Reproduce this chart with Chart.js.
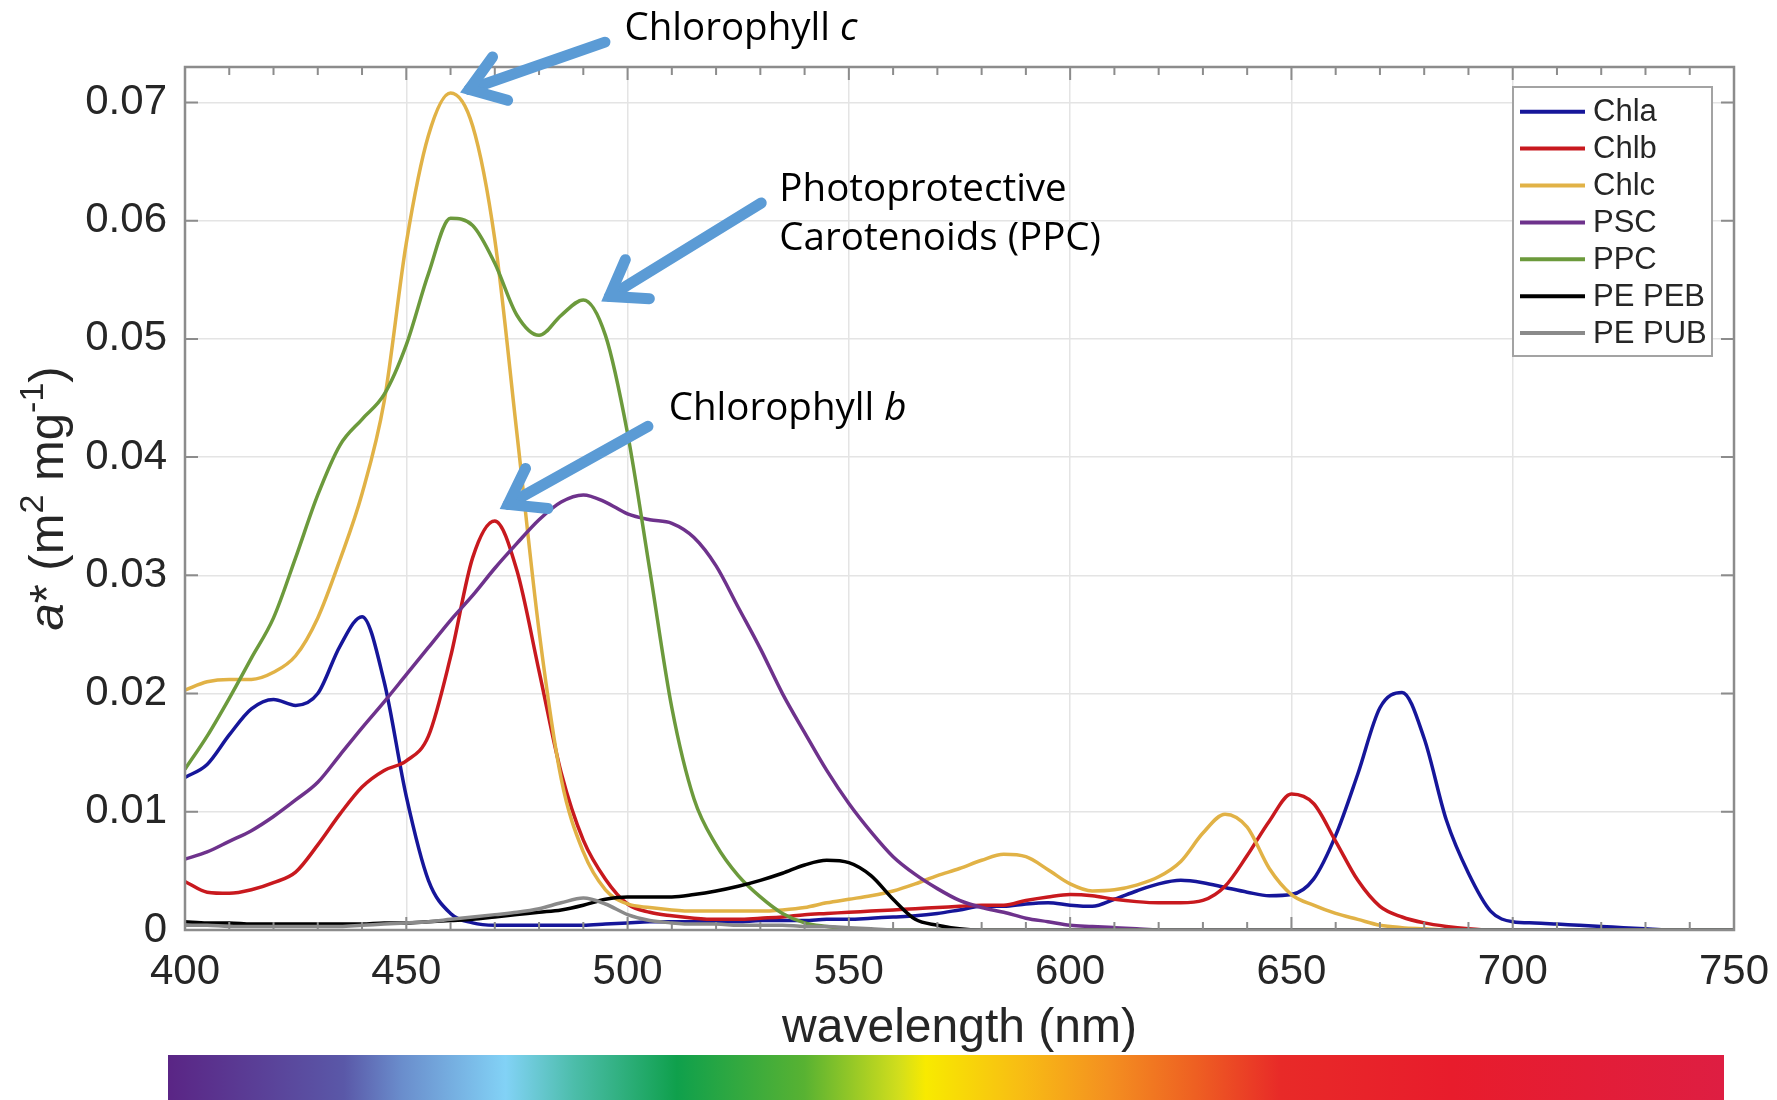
<!DOCTYPE html>
<html>
<head>
<meta charset="utf-8">
<title>Pigment absorption spectra</title>
<script src="https://cdn.jsdelivr.net/npm/chart.js@4.4.1/dist/chart.umd.min.js"></script>
<style>
  html, body { margin: 0; padding: 0; background: #fff; }
  #chart { display: block; }
</style>
</head>
<body>
<canvas id="chart" width="1777" height="1100"></canvas>
<script>
// wavelength grid (nm)
const wavelengths = [
  400, 405, 410, 415, 420, 425, 430, 435, 440, 445,
  450, 455, 460, 465, 470, 475, 480, 485, 490, 495,
  500, 505, 510, 515, 520, 525, 530, 535, 540, 545,
  550, 555, 560, 565, 570, 575, 580, 585, 590, 595,
  600, 605, 610, 615, 620, 625, 630, 635, 640, 645,
  650, 655, 660, 665, 670, 675, 680, 685, 690, 695,
  700, 705, 710, 715, 720, 725, 730, 735, 740, 745,
  750
];

// specific absorption a* (m2 mg-1) for each pigment
const chla = [
  0.0129, 0.0140, 0.0165, 0.0187, 0.0195, 0.0190, 0.0200, 0.0240, 0.0265, 0.0210,
  0.0113, 0.0042, 0.0014, 0.0006, 0.0004, 0.0004, 0.0004, 0.0004, 0.0004, 0.0005,
  0.0006, 0.0007, 0.0007, 0.0007, 0.0007, 0.0007, 0.0008, 0.0008, 0.0008, 0.0009,
  0.0009, 0.0010, 0.0011, 0.0012, 0.0014, 0.0017, 0.0020, 0.0020, 0.0022, 0.0023,
  0.0021, 0.0020, 0.0026, 0.0033, 0.0039, 0.0042, 0.0040, 0.0036, 0.0032, 0.0029,
  0.0030, 0.0043, 0.0080, 0.0132, 0.0188, 0.0201, 0.0162, 0.0093, 0.0048, 0.0016,
  0.0007, 0.0006, 0.0005, 0.0004, 0.0003, 0.0002, 0.0001, 0, 0, 0,
  0
];
const chlb = [
  0.0041, 0.0032, 0.0031, 0.0034, 0.0040, 0.0049, 0.0072, 0.0098, 0.0121, 0.0135,
  0.0143, 0.0164, 0.0231, 0.0315, 0.0346, 0.0304, 0.0219, 0.0133, 0.0076, 0.0043,
  0.0022, 0.0015, 0.0012, 0.0010, 0.0009, 0.0009, 0.0010, 0.0011, 0.0013, 0.0014,
  0.0015, 0.0016, 0.0017, 0.0018, 0.0019, 0.0020, 0.0021, 0.0021, 0.0025, 0.0028,
  0.0030, 0.0029, 0.0026, 0.0024, 0.0023, 0.0023, 0.0025, 0.0037, 0.0063, 0.0092,
  0.0115, 0.0107, 0.0075, 0.0042, 0.0020, 0.0011, 0.0006, 0.0003, 0.0001, 0,
  0, 0, 0, 0, 0, 0, 0, 0, 0, 0,
  0
];
const chlc = [
  0.0203, 0.0210, 0.0212, 0.0212, 0.0218, 0.0232, 0.0264, 0.0313, 0.0369, 0.0447,
  0.0581, 0.0672, 0.0708, 0.0680, 0.0584, 0.0420, 0.0253, 0.0128, 0.0066, 0.0034,
  0.0022, 0.0019, 0.0017, 0.0016, 0.0016, 0.0016, 0.0016, 0.0017, 0.0019, 0.0023,
  0.0026, 0.0029, 0.0033, 0.0039, 0.0046, 0.0052, 0.0059, 0.0064, 0.0062, 0.0051,
  0.0039, 0.0033, 0.0034, 0.0038, 0.0045, 0.0058, 0.0082, 0.0098, 0.0087, 0.0052,
  0.0030, 0.0021, 0.0014, 0.0009, 0.0004, 0.0002, 0.0001, 0, 0, 0,
  0, 0, 0, 0, 0, 0, 0, 0, 0, 0,
  0
];
const psc = [
  0.0060, 0.0066, 0.0075, 0.0084, 0.0096, 0.0110, 0.0125, 0.0148, 0.0171, 0.0193,
  0.0216, 0.0239, 0.0262, 0.0283, 0.0306, 0.0327, 0.0347, 0.0362, 0.0368, 0.0362,
  0.0352, 0.0347, 0.0344, 0.0332, 0.0308, 0.0273, 0.0238, 0.0200, 0.0167, 0.0135,
  0.0107, 0.0083, 0.0062, 0.0047, 0.0035, 0.0025, 0.0019, 0.0015, 0.0010, 0.0007,
  0.0004, 0.0003, 0.0002, 0.0001, 0, 0, 0, 0, 0, 0,
  0, 0, 0, 0, 0, 0, 0, 0, 0, 0,
  0, 0, 0, 0, 0, 0, 0, 0, 0, 0,
  0
];
const ppc = [
  0.0136, 0.0164, 0.0196, 0.0230, 0.0264, 0.0315, 0.0368, 0.0410, 0.0432, 0.0453,
  0.0495, 0.0555, 0.0602, 0.0596, 0.0564, 0.0520, 0.0503, 0.0520, 0.0533, 0.0503,
  0.0420, 0.0305, 0.0188, 0.0111, 0.0072, 0.0046, 0.0028, 0.0014, 0.0006, 0.0003,
  0.0001, 0, 0, 0, 0, 0, 0, 0, 0, 0,
  0, 0, 0, 0, 0, 0, 0, 0, 0, 0,
  0, 0, 0, 0, 0, 0, 0, 0, 0, 0,
  0, 0, 0, 0, 0, 0, 0, 0, 0, 0,
  0
];
const pePeb = [
  0.0007, 0.0006, 0.0006, 0.0005, 0.0005, 0.0005, 0.0005, 0.0005, 0.0005, 0.0006,
  0.0006, 0.0007, 0.0008, 0.0009, 0.0011, 0.0013, 0.0015, 0.0017, 0.0021, 0.0026,
  0.0028, 0.0028, 0.0028, 0.0030, 0.0033, 0.0037, 0.0042, 0.0048, 0.0055, 0.0059,
  0.0057, 0.0046, 0.0026, 0.0009, 0.0004, 0.0001, 0, 0, 0, 0,
  0, 0, 0, 0, 0, 0, 0, 0, 0, 0,
  0, 0, 0, 0, 0, 0, 0, 0, 0, 0,
  0, 0, 0, 0, 0, 0, 0, 0, 0, 0,
  0
];
const pePub = [
  0.0004, 0.0004, 0.0003, 0.0003, 0.0003, 0.0003, 0.0003, 0.0003, 0.0004, 0.0005,
  0.0006, 0.0007, 0.0009, 0.0011, 0.0013, 0.0015, 0.0018, 0.0023, 0.0027, 0.0022,
  0.0013, 0.0008, 0.0006, 0.0005, 0.0005, 0.0004, 0.0004, 0.0004, 0.0003, 0.0003,
  0.0002, 0.0001, 0, 0, 0, 0, 0, 0, 0, 0,
  0, 0, 0, 0, 0, 0, 0, 0, 0, 0,
  0, 0, 0, 0, 0, 0, 0, 0, 0, 0,
  0, 0, 0, 0, 0, 0, 0, 0, 0, 0,
  0
];

const seriesNames = ['Chla', 'Chlb', 'Chlc', 'PSC', 'PPC', 'PE PEB', 'PE PUB'];
const seriesValues = [chla, chlb, chlc, psc, ppc, pePeb, pePub];
const seriesColors = ['#16169a', '#c8191e', '#e1b246', '#6e328c', '#6c9a3c', '#000000', '#8a8a8a'];

const xTicks = [400, 450, 500, 550, 600, 650, 700, 750];
const yTicks = [0, 0.01, 0.02, 0.03, 0.04, 0.05, 0.06, 0.07];

// callouts, placed in data units (nm, a*)
const arrows = [
  { tail: [494.9, 0.0751], tip: [464.2, 0.0711] },
  { tail: [530.2, 0.0615], tip: [495.9, 0.0536] },
  { tail: [504.6, 0.0426], tip: [473.0, 0.0360] }
];
const callouts = [
  { text: 'Chlorophyll ', italic: 'c', at: [499.3, 0.0753] },
  { text: 'Photoprotective', italic: '', at: [534.3, 0.0617] },
  { text: 'Carotenoids (PPC)', italic: '', at: [534.3, 0.0575] },
  { text: 'Chlorophyll ', italic: 'b', at: [509.3, 0.0431] }
];

const spectrumStops = [
  [0, '#5a2585'], [0.113, '#5a58a8'], [0.15, '#6a8dcc'], [0.217, '#82d2f6'],
  [0.261, '#4cbdaa'], [0.327, '#0fa04c'], [0.409, '#58b232'], [0.47, '#d2de1c'],
  [0.487, '#f8ea00'], [0.549, '#f8bc14'], [0.604, '#f49020'], [0.66, '#ee6022'],
  [0.715, '#e82a28'], [0.825, '#e81c2c'], [1, '#de1e42']
];

const TEXT = '#262626';
const AXIS = '#8c8c8c';
const SANS = '"Liberation Sans", Arial, sans-serif';

const datasets = seriesNames.map((name, i) => ({
  label: name,
  data: wavelengths.map((w, j) => ({ x: w, y: seriesValues[i][j] })),
  borderColor: seriesColors[i],
  backgroundColor: seriesColors[i],
  borderWidth: 3.5,
  pointRadius: 0,
  fill: false,
  cubicInterpolationMode: 'monotone',
  order: seriesNames.length - i
}));

// axes box with inward ticks on all four sides
const framePlugin = {
  id: 'frame',
  afterDatasetsDraw(chart) {
    const { ctx, chartArea: a, scales: { x, y } } = chart;
    ctx.save();
    ctx.strokeStyle = AXIS;
    ctx.lineWidth = 2;
    ctx.beginPath();
    for (let w = 400; w <= 750; w += 10) {
      const px = x.getPixelForValue(w);
      const len = w % 50 === 0 ? 13 : 8;
      ctx.moveTo(px, a.bottom);
      ctx.lineTo(px, a.bottom - len);
      ctx.moveTo(px, a.top);
      ctx.lineTo(px, a.top + len);
    }
    yTicks.forEach(v => {
      const py = y.getPixelForValue(v);
      ctx.moveTo(a.left, py);
      ctx.lineTo(a.left + 13, py);
      ctx.moveTo(a.right, py);
      ctx.lineTo(a.right - 13, py);
    });
    ctx.stroke();
    ctx.lineWidth = 2.5;
    ctx.strokeRect(a.left, a.top, a.right - a.left, a.bottom - a.top);
    ctx.restore();
  }
};

const legendPlugin = {
  id: 'boxLegend',
  afterDraw(chart) {
    const { ctx, chartArea: a } = chart;
    const w = 199, h = 269;
    const left = a.right - 22 - w, top = a.top + 20;
    ctx.save();
    ctx.fillStyle = '#fff';
    ctx.fillRect(left, top, w, h);
    ctx.strokeStyle = '#a3a3a3';
    ctx.lineWidth = 2;
    ctx.strokeRect(left, top, w, h);
    ctx.font = '31px ' + SANS;
    ctx.textBaseline = 'middle';
    chart.data.datasets.forEach((ds, i) => {
      const rowY = top + 24.7 + i * 36.9;
      ctx.strokeStyle = ds.borderColor;
      ctx.lineWidth = 4;
      ctx.beginPath();
      ctx.moveTo(left + 7, rowY);
      ctx.lineTo(left + 72, rowY);
      ctx.stroke();
      ctx.fillStyle = TEXT;
      ctx.fillText(ds.label, left + 80, rowY + 1);
    });
    ctx.restore();
  }
};

function drawArrow(ctx, x1, y1, x2, y2) {
  const ang = Math.atan2(y1 - y2, x1 - x2);
  const barb = 40, spread = 0.61;
  ctx.beginPath();
  ctx.moveTo(x1, y1);
  ctx.lineTo(x2, y2);
  ctx.stroke();
  ctx.beginPath();
  ctx.moveTo(x2 + barb * Math.cos(ang + spread), y2 + barb * Math.sin(ang + spread));
  ctx.lineTo(x2, y2);
  ctx.lineTo(x2 + barb * Math.cos(ang - spread), y2 + barb * Math.sin(ang - spread));
  ctx.stroke();
}

const calloutPlugin = {
  id: 'callouts',
  afterDraw(chart) {
    const { ctx, scales: { x, y } } = chart;
    ctx.save();
    ctx.strokeStyle = '#5b9bd5';
    ctx.lineWidth = 11;
    ctx.lineCap = 'round';
    ctx.lineJoin = 'miter';
    arrows.forEach(ar => {
      drawArrow(ctx,
        x.getPixelForValue(ar.tail[0]), y.getPixelForValue(ar.tail[1]),
        x.getPixelForValue(ar.tip[0]), y.getPixelForValue(ar.tip[1]));
    });
    ctx.fillStyle = '#000';
    ctx.textBaseline = 'alphabetic';
    callouts.forEach(c => {
      const px = x.getPixelForValue(c.at[0]);
      const py = y.getPixelForValue(c.at[1]);
      ctx.font = '38.5px "Open Sans", sans-serif';
      ctx.fillText(c.text, px, py);
      if (c.italic) {
        const wText = ctx.measureText(c.text).width;
        ctx.font = 'italic 38.5px "Open Sans", sans-serif';
        ctx.fillText(c.italic, px + wText, py);
      }
    });
    ctx.restore();
  }
};

// rotated y title with italic a and superscripts, plus the colour spectrum strip
const extrasPlugin = {
  id: 'extras',
  afterDraw(chart) {
    const { ctx, chartArea: a, width } = chart;
    const size = 49, sup = 34;
    const parts = [
      { t: 'a', font: `italic ${size}px ${SANS}`, rise: 0 },
      { t: '* (m', font: `${size}px ${SANS}`, rise: 0 },
      { t: '2', font: `${sup}px ${SANS}`, rise: 20 },
      { t: ' mg', font: `${size}px ${SANS}`, rise: 0 },
      { t: '-1', font: `${sup}px ${SANS}`, rise: 20 },
      { t: ')', font: `${size}px ${SANS}`, rise: 0 }
    ];
    ctx.save();
    let total = 0;
    parts.forEach(p => { ctx.font = p.font; p.w = ctx.measureText(p.t).width; total += p.w; });
    ctx.translate(63, (a.top + a.bottom) / 2);
    ctx.rotate(-Math.PI / 2);
    ctx.fillStyle = TEXT;
    ctx.textBaseline = 'alphabetic';
    let cx = -total / 2;
    parts.forEach(p => {
      ctx.font = p.font;
      ctx.fillText(p.t, cx, -p.rise);
      cx += p.w;
    });
    ctx.restore();

    const left = a.left - 17, right = width - 53, top = 1055, bottom = chart.height;
    const grad = ctx.createLinearGradient(left, 0, right, 0);
    spectrumStops.forEach(s => grad.addColorStop(s[0], s[1]));
    ctx.save();
    ctx.fillStyle = grad;
    ctx.fillRect(left, top, right - left, bottom - top);
    ctx.restore();
  }
};

const chart = new Chart(document.getElementById('chart').getContext('2d'), {
  type: 'line',
  data: { datasets: datasets },
  options: {
    responsive: false,
    animation: false,
    events: [],
    layout: { padding: { top: 67, right: 43, bottom: 0, left: 0 }, autoPadding: false },
    plugins: {
      legend: { display: false },
      tooltip: { enabled: false }
    },
    scales: {
      x: {
        type: 'linear',
        min: 400,
        max: 750,
        afterBuildTicks: s => { s.ticks = xTicks.map(v => ({ value: v })); },
        afterFit: s => {
          s.height = 170;
          // keep the end labels from pushing the plot area inwards
          s.paddingLeft = 0;
          s.paddingRight = 0;
        },
        ticks: {
          padding: 17,
          color: TEXT,
          maxRotation: 0,
          autoSkip: false,
          font: { family: SANS, size: 42 },
          callback: v => String(v)
        },
        grid: { color: '#e4e4e4', lineWidth: 1.5, drawTicks: false },
        border: { display: false },
        title: {
          display: true,
          text: 'wavelength (nm)',
          color: TEXT,
          font: { family: SANS, size: 48 },
          padding: { top: 0, bottom: 42 }
        }
      },
      y: {
        type: 'linear',
        min: 0,
        max: 0.073,
        afterBuildTicks: s => { s.ticks = yTicks.map(v => ({ value: v })); },
        afterFit: s => {
          s.width = 185;
          s.paddingTop = 0;
          s.paddingBottom = 0;
        },
        ticks: {
          padding: 18,
          color: TEXT,
          font: { family: SANS, size: 42 },
          callback: v => (v === 0 ? '0' : v.toFixed(2))
        },
        grid: { color: '#e4e4e4', lineWidth: 1.5, drawTicks: false },
        border: { display: false }
      }
    }
  },
  plugins: [framePlugin, legendPlugin, calloutPlugin, extrasPlugin]
});
</script>
</body>
</html>
